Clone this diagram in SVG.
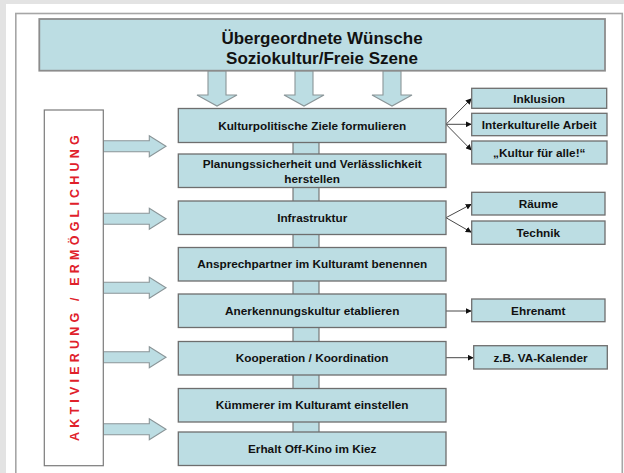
<svg xmlns="http://www.w3.org/2000/svg" width="624" height="473" viewBox="0 0 624 473">
<defs>
<style>
.box{fill:#bcdde3;stroke:#6e6e6e;stroke-width:1.3}
.tbox{fill:#bcdde3;stroke:#8c8c8c;stroke-width:1.8}
.stub{fill:#bcdde3;stroke:#6e6e6e;stroke-width:1.1}
.barrow{fill:#bcdde3;stroke:#8a9598;stroke-width:1.1}
.lbl{font-family:"Liberation Sans",Arial,sans-serif;font-weight:bold;font-size:11.8px;fill:#111;text-anchor:middle}
.ttl{font-family:"Liberation Sans",Arial,sans-serif;font-weight:bold;font-size:17px;fill:#111;text-anchor:middle}
.con{stroke:#333;stroke-width:0.9;fill:none}
.vt{font-family:"Liberation Sans",Arial,sans-serif;font-weight:bold;font-size:12.5px;fill:#e0202a}
</style>
<marker id="ah" markerUnits="userSpaceOnUse" markerWidth="7" markerHeight="6" refX="6" refY="3" orient="auto">
<path d="M0,0 L6,3 L0,6 Z" fill="#111"/>
</marker>
</defs>
<rect x="0" y="0" width="624" height="473" fill="#e3e3e3"/>
<rect x="6" y="4" width="618" height="469" fill="#ffffff"/>
<rect x="15.8" y="13.5" width="606.5" height="470" fill="#ffffff" stroke="#a6a6a6" stroke-width="1.6"/>

<g id="connectors">
<path class="barrow" d="M208,70.7 H226 V95 H237 L217,106 L197,95 H208 Z"/>
<path class="barrow" d="M295,70.7 H313 V95 H324 L304,106 L284,95 H295 Z"/>
<path class="barrow" d="M383,70.7 H401 V95 H412 L392,106 L372,95 H383 Z"/>
<path class="barrow" d="M103.3,140.8 H149.3 V135.8 L166,146.3 L149.3,156.8 V151.8 H103.3 Z"/>
<path class="barrow" d="M103.3,213.2 H149.3 V208.2 L166,218.7 L149.3,229.2 V224.2 H103.3 Z"/>
<path class="barrow" d="M103.3,282.2 H149.3 V277.2 L166,287.7 L149.3,298.2 V293.2 H103.3 Z"/>
<path class="barrow" d="M103.3,351.8 H149.3 V346.8 L166,357.3 L149.3,367.8 V362.8 H103.3 Z"/>
<path class="barrow" d="M103.3,423.8 H149.3 V418.8 L166,429.3 L149.3,439.8 V434.8 H103.3 Z"/>
<rect class="stub" x="293" y="140" width="26" height="16"/>
<rect class="stub" x="293" y="185" width="26" height="18"/>
<rect class="stub" x="293" y="232" width="26" height="17"/>
<rect class="stub" x="293" y="279" width="26" height="17"/>
<rect class="stub" x="293" y="325" width="26" height="18"/>
<rect class="stub" x="293" y="373" width="26" height="17"/>
<rect class="stub" x="293" y="420" width="26" height="14"/>
<line class="con" x1="446" y1="124.3" x2="471.7" y2="98.3" marker-end="url(#ah)"/>
<line class="con" x1="446" y1="124.3" x2="471.7" y2="124.3" marker-end="url(#ah)"/>
<line class="con" x1="446" y1="124.3" x2="471.7" y2="150.5" marker-end="url(#ah)"/>
<line class="con" x1="446" y1="217.7" x2="471.7" y2="204" marker-end="url(#ah)"/>
<line class="con" x1="446" y1="217.7" x2="471.7" y2="232.5" marker-end="url(#ah)"/>
<line class="con" x1="446" y1="311" x2="471.7" y2="311" marker-end="url(#ah)"/>
<line class="con" x1="446" y1="357.7" x2="473.7" y2="357.7" marker-end="url(#ah)"/>
</g>

<g id="top">
<rect class="tbox" x="39.3" y="19" width="565.7" height="51.7"/>
<text class="ttl" x="322" y="44.3">Übergeordnete Wünsche</text>
<text class="ttl" x="322" y="63.6">Soziokultur/Freie Szene</text>
</g>

<g id="aktivierung">
<rect x="44.3" y="110" width="59" height="355.7" fill="#ffffff" stroke="#7a7a7a" stroke-width="1.2"/>
<text class="vt" transform="translate(79,441) rotate(-90)" letter-spacing="4.2">AKTIVIERUNG / ERMÖGLICHUNG</text>
</g>

<g id="n1"><rect class="box" x="178.3" y="108.5" width="267.7" height="34"/><text class="lbl" x="312.2" y="129.8">Kulturpolitische Ziele formulieren</text></g>
<g id="n2"><rect class="box" x="178.3" y="154" width="267.7" height="33.5"/><text class="lbl" x="312.2" y="168.2">Planungssicherheit und Verlässlichkeit</text><text class="lbl" x="312.2" y="182.5">herstellen</text></g>
<g id="n3"><rect class="box" x="178.3" y="201" width="267.7" height="33.5"/><text class="lbl" x="312.2" y="221.9">Infrastruktur</text></g>
<g id="n4"><rect class="box" x="178.3" y="247.5" width="267.7" height="33.5"/><text class="lbl" x="312.2" y="268.4">Ansprechpartner im Kulturamt benennen</text></g>
<g id="n5"><rect class="box" x="178.3" y="294" width="267.7" height="33.5"/><text class="lbl" x="312.2" y="314.9">Anerkennungskultur etablieren</text></g>
<g id="n6"><rect class="box" x="178.3" y="341.5" width="267.7" height="33.5"/><text class="lbl" x="312.2" y="362.4">Kooperation / Koordination</text></g>
<g id="n7"><rect class="box" x="178.3" y="388.5" width="267.7" height="33.5"/><text class="lbl" x="312.2" y="409.4">Kümmerer im Kulturamt einstellen</text></g>
<g id="n8"><rect class="box" x="178.3" y="432" width="267.7" height="33.5"/><text class="lbl" x="312.2" y="452.9">Erhalt Off-Kino im Kiez</text></g>

<g id="r1"><rect class="box" x="471.7" y="88.3" width="135" height="20"/><text class="lbl" x="539.2" y="102.5">Inklusion</text></g>
<g id="r2"><rect class="box" x="471.7" y="113.3" width="135.3" height="22.4"/><text class="lbl" x="539.3" y="128.7">Interkulturelle Arbeit</text></g>
<g id="r3"><rect class="box" x="471.7" y="141" width="135.3" height="23"/><text class="lbl" x="539.3" y="156.5">„Kultur für alle!“</text></g>
<g id="r4"><rect class="box" x="471.7" y="192.3" width="133.3" height="22.7"/><text class="lbl" x="538.3" y="208">Räume</text></g>
<g id="r5"><rect class="box" x="471.7" y="221" width="133.3" height="23.3"/><text class="lbl" x="538.3" y="236.9">Technik</text></g>
<g id="r6"><rect class="box" x="471.7" y="299" width="133.3" height="22.7"/><text class="lbl" x="538.3" y="314.6">Ehrenamt</text></g>
<g id="r7"><rect class="box" x="473.7" y="345.7" width="133.6" height="23.3"/><text class="lbl" x="540.5" y="361.5">z.B. VA-Kalender</text></g>
</svg>
